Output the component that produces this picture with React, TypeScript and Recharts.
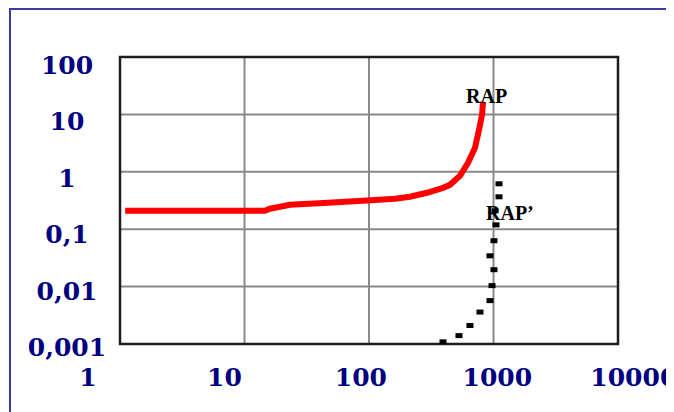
import React from 'react'
import {
  ComposedChart,
  Line,
  Scatter,
  XAxis,
  YAxis,
  CartesianGrid,
  ReferenceArea,
} from 'recharts'

// tick values and their printed labels (comma decimals as in the original)
const xTicks = [1, 10, 100, 1000, 10000]
const xTickLabels = ['1', '10', '100', '1000', '10000']
const yTicks = [0.001, 0.01, 0.1, 1, 10, 100]
const yTickLabels = ['0,001', '0,01', '0,1', '1', '10', '100']

// RAP curve (red)
const rapX = [1.1, 14.6, 16, 23.2, 46.9, 89.5, 162, 213, 292, 393, 447, 538, 624, 710, 765, 809, 824]
const rapY = [0.21, 0.21, 0.227, 0.266, 0.288, 0.313, 0.339, 0.367, 0.431, 0.526, 0.593, 0.852, 1.43, 2.62, 5.4, 9.8, 16.6]

// RAP' points (black squares)
const rapPrimeX = [1107, 1107, 1028, 1047, 1009, 937, 1009, 973, 937, 779, 647, 528, 393]
const rapPrimeY = [0.618, 0.367, 0.209, 0.119, 0.063, 0.0344, 0.0197, 0.0104, 0.0057, 0.0036, 0.0021, 0.0014, 0.00109]

const rap = rapX.map((x, i) => ({ x, y: rapY[i] }))
const rapPrime = rapPrimeX.map((x, i) => ({ x, y: rapPrimeY[i] }))

const NAVY = '#000080'
const tickFont = { fontFamily: 'DejaVu Serif', fontSize: 25, fontWeight: 'bold' as const }

const XTick = (props: any) => {
  const { x, payload } = props
  const i = xTicks.indexOf(payload.value)
  // labels in the original drift slightly wider than the grid
  const cx = 80 + (x - 112) * 1.096
  return (
    <text x={cx} y={378} textAnchor="middle" fill={NAVY} {...tickFont}>
      {xTickLabels[i]}
    </text>
  )
}

const YTick = (props: any) => {
  const { y, payload } = props
  const i = yTicks.indexOf(payload.value)
  const cy = 56 + (y - 49) * 0.985
  return (
    <text x={59} y={cy + 9.5} textAnchor="middle" fill={NAVY} {...tickFont}>
      {yTickLabels[i]}
    </text>
  )
}

const Square = (props: any) => {
  const { cx, cy } = props
  return <rect x={cx - 3.5} y={cy - 2.5} width={7} height={5} fill="#000" />
}

const labelStyle: React.CSSProperties = {
  position: 'absolute',
  fontFamily: '"Liberation Serif"',
  fontWeight: 'bold',
  fontSize: 20,
  color: '#000',
  lineHeight: 1,
  whiteSpace: 'nowrap',
}

export default function App() {
  return (
    <div style={{ position: 'relative', width: 666, height: 404, overflow: 'hidden', background: '#fff' }}>
      <div
        style={{
          position: 'absolute',
          left: 1,
          top: 0,
          width: 700,
          height: 420,
          borderTop: '2px solid #3b3ba6',
          borderLeft: '2px solid #3b3ba6',
        }}
      />
      <ComposedChart
        width={666}
        height={404}
        margin={{ top: 49, right: 56, bottom: 18, left: 12 }}
      >
        <CartesianGrid stroke="#8a8a8a" strokeWidth={2} />
        <XAxis
          type="number"
          dataKey="x"
          scale="log"
          domain={[1, 10000]}
          ticks={xTicks}
          allowDataOverflow
          height={50}
          axisLine={false}
          tickLine={false}
          tick={<XTick />}
          interval={0}
        />
        <YAxis
          type="number"
          dataKey="y"
          scale="log"
          domain={[0.001, 100]}
          ticks={yTicks}
          allowDataOverflow
          width={100}
          axisLine={false}
          tickLine={false}
          tick={<YTick />}
          interval={0}
        />
        <ReferenceArea
          x1={1}
          x2={10000}
          y1={0.001}
          y2={100}
          fill="none"
          stroke="#1e1e1e"
          strokeWidth={2.5}
          ifOverflow="visible"
        />
        <Line
          data={rap}
          dataKey="y"
          type="linear"
          stroke="#ff0000"
          strokeWidth={6}
          dot={false}
          activeDot={false}
          isAnimationActive={false}
        />
        <Scatter data={rapPrime} dataKey="y" shape={<Square />} isAnimationActive={false} />
      </ComposedChart>
      <div style={{ ...labelStyle, left: 458, top: 78 }}>RAP</div>
      <div style={{ ...labelStyle, left: 478, top: 195 }}>RAP’</div>
    </div>
  )
}
